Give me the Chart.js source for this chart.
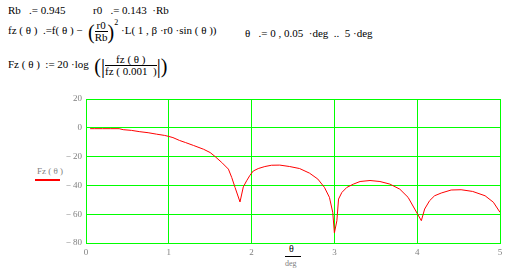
<!DOCTYPE html>
<html>
<head>
<meta charset="utf-8">
<script src="https://cdn.jsdelivr.net/npm/chart.js@4"></script>
<style>
  body { margin: 0; background: #fff; width: 521px; height: 275px; overflow: hidden; position: relative;
         font-family: "Times New Roman", "Liberation Serif", "DejaVu Serif", serif; font-size: 11px; color: #000; }
  #c { position: absolute; left: 0; top: 0; }
  .t { position: absolute; white-space: pre; line-height: 12px; }
  .frac { display: inline-block; vertical-align: middle; text-align: center; }
  .frac span { display: block; line-height: 11px; }
  .frac .num { border-bottom: 1px solid #000; padding: 0 1px; }
  .big { font-size: 20px; vertical-align: middle; }
  .gray { color: #808080; font-size: 9px; }
</style>
</head>
<body>
<div class="t" style="left:8px;top:4px">Rb   .= 0.945</div>
<div class="t" style="left:93px;top:4px">r0   .= 0.143  ·Rb</div>

<div class="t" style="left:8px;top:20px">fz ( θ )  .=f( θ ) −  <span class="big">(</span><span class="frac"><span class="num">r0</span><span>Rb</span></span><span class="big">)</span><sup style="font-size:8px;position:relative;top:-4px">2</sup> ·L( 1 , β ·r0 ·sin ( θ ))</div>
<div class="t" style="left:245px;top:27px">θ   .= 0 , 0.05  ·deg  ..  5 ·deg</div>

<div class="t" style="left:8px;top:54px">Fz ( θ )  := 20 ·log  <span class="big">(|</span><span class="frac"><span class="num">fz ( θ )</span><span>fz ( 0.001  )</span></span><span class="big">|)</span></div>

<div class="t gray" style="left:37px;top:165px">Fz ( θ )</div>
<div style="position:absolute;left:35px;top:179px;width:25px;height:2px;background:#ff0000"></div>

<div class="t" style="left:289px;top:243px;font-size:10px">θ</div>
<div style="position:absolute;left:285px;top:256px;width:16px;height:1px;background:#000"></div>
<div class="t gray" style="left:285px;top:258px;font-size:8px">deg</div>

<canvas id="c" width="521" height="275"></canvas>
<script>
// theta in degrees, Fz in dB
const theta = [0.05, 0.10, 0.20, 0.30, 0.40, 0.45, 0.55, 0.65, 0.75, 0.85, 0.95, 1.00, 1.05, 1.13, 1.20,
    1.30, 1.42, 1.50, 1.56, 1.64, 1.72, 1.76, 1.80, 1.86, 1.90, 1.94, 1.98, 2.02, 2.08, 2.16, 2.24,
    2.34, 2.46, 2.58, 2.70, 2.80, 2.88, 2.94, 2.98, 3.00, 3.03, 3.05, 3.09, 3.15, 3.23, 3.31, 3.43,
    3.55, 3.67, 3.79, 3.89, 3.97, 4.05, 4.09, 4.15, 4.21, 4.29, 4.41, 4.53, 4.67, 4.82, 4.92, 5.00];
const Fz = [-0.6, -0.6, -0.6, -0.6, -0.6, -1.3, -1.8, -2.7, -3.4, -4.4, -5.3, -6.0, -6.8, -8.8, -10.2,
    -12.3, -14.9, -17.2, -20.0, -24.1, -28.7, -34.5, -41.4, -51.5, -41.0, -36.8, -33.0, -30.0, -28.3, -26.9, -26.0,
    -25.9, -26.9, -28.3, -31.5, -35.6, -41.4, -48.3, -58.7, -73.0, -64.5, -49.5, -44.9, -41.4, -39.1, -37.3, -36.6,
    -37.3, -39.1, -42.6, -48.3, -56.4, -64.5, -56.4, -50.6, -47.2, -45.3, -43.2, -43.0, -44.2, -47.2, -51.7, -58.7];
const xTicks = [0, 1, 2, 3, 4, 5];
const yTicks = [20, 0, -20, -40, -60, -80];

const green = '#00ff00';
const tickFont = { family: '"Times New Roman", "Liberation Serif", serif', size: 9 };

new Chart(document.getElementById('c'), {
    type: 'line',
    data: {
        datasets: [{
            data: theta.map((t, i) => ({ x: t, y: Fz[i] })),
            borderColor: '#ff0000',
            borderWidth: 1,
            pointRadius: 0,
            tension: 0,
            fill: false
        }]
    },
    options: {
        responsive: false,
        animation: false,
        layout: { padding: { left: 46, right: 21, top: 99, bottom: 16 } },
        plugins: { legend: { display: false }, tooltip: { enabled: false } },
        scales: {
            x: {
                type: 'linear',
                min: xTicks[0], max: xTicks[xTicks.length - 1],
                afterFit: s => { s.height = 16; },
                afterBuildTicks: s => { s.ticks = xTicks.map(v => ({ value: v })); },
                grid: { color: green, lineWidth: 1, drawTicks: false },
                border: { color: green, width: 1 },
                ticks: { color: '#808080', font: tickFont, padding: 4, callback: v => String(v) }
            },
            y: {
                min: yTicks[yTicks.length - 1], max: yTicks[0],
                afterFit: s => { s.width = 40; },
                afterBuildTicks: s => { s.ticks = yTicks.map(v => ({ value: v })); },
                grid: { color: green, lineWidth: 1, drawTicks: false },
                border: { color: green, width: 1 },
                ticks: { color: '#808080', font: tickFont, padding: 4,
                    callback: v => v < 0 ? '\u2212 ' + Math.abs(v) : String(v) }
            }
        }
    }
});
</script>
</body>
</html>
